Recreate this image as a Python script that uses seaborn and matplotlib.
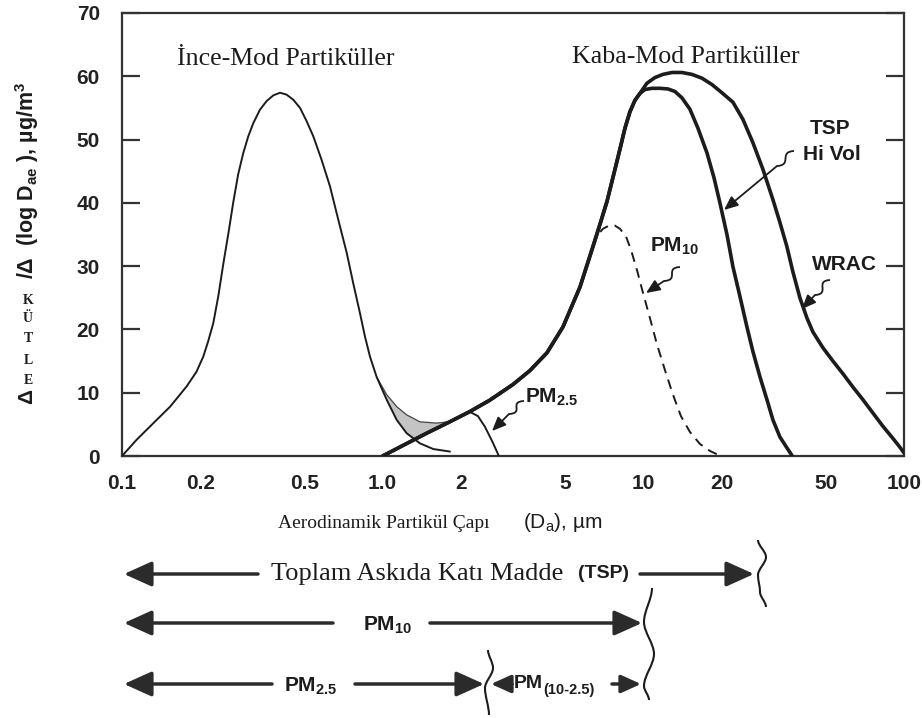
import numpy as np
import pandas as pd
import matplotlib
matplotlib.use("Agg")
import matplotlib.pyplot as plt
import seaborn as sns
from matplotlib.path import Path
from matplotlib.patches import PathPatch
from matplotlib.ticker import NullFormatter

# ---------------- data ----------------
fine_x = [0.100, 0.114, 0.132, 0.153, 0.177, 0.193, 0.205, 0.214, 0.224, 0.234,
          0.245, 0.256, 0.267, 0.279, 0.292, 0.305, 0.319, 0.338, 0.359, 0.381,
          0.404, 0.428, 0.454, 0.482, 0.511, 0.542, 0.583, 0.628, 0.676, 0.728,
          0.771, 0.818, 0.855, 0.894, 0.948, 1.036, 1.132, 1.236, 1.390, 1.564, 1.812]
fine_y = [0.0, 2.6, 5.2, 7.8, 11.0, 13.3, 15.7, 18.1, 21.0, 25.2,
          30.5, 35.2, 40.0, 44.5, 47.9, 50.5, 52.6, 54.7, 56.1, 57.0,
          57.4, 57.1, 56.3, 55.0, 52.9, 50.5, 46.8, 42.6, 37.3, 32.1,
          27.3, 22.6, 18.9, 15.7, 12.5, 8.9, 5.7, 3.6, 2.0, 1.1, 0.7]

shade_top_x = [0.948, 1.036, 1.132, 1.236, 1.390, 1.611, 1.785]
shade_top_y = [12.5, 9.7, 7.8, 6.5, 5.4, 5.2, 5.4]
shade_bot_x = [0.948, 1.036, 1.132, 1.236, 1.330, 1.475, 1.785]
shade_bot_y = [12.5, 8.9, 5.7, 3.6, 2.7, 3.6, 5.4]

rise_x = [1.000, 1.214, 1.475, 1.808, 2.155, 2.572, 3.161, 3.673, 4.267, 4.917,
          5.714, 6.409, 6.816, 7.251, 7.645, 8.135, 8.502, 8.885, 9.285, 9.705]
rise_y = [0.0, 1.8, 3.6, 5.4, 7.0, 8.8, 11.3, 13.5, 16.3, 20.4,
          26.7, 33.1, 36.6, 40.2, 44.0, 48.5, 51.8, 54.4, 56.2, 57.3]

tsp_x = [10.14, 10.79, 11.58, 12.43, 13.22, 14.06, 15.09, 16.20, 17.54, 18.66,
         19.67, 20.93, 22.07, 23.48, 24.97, 26.33, 28.02, 29.80, 31.42, 33.42, 35.54, 37.15]
tsp_y = [57.9, 58.1, 58.1, 58.0, 57.6, 56.6, 54.8, 51.8, 47.9, 44.0,
         40.0, 35.0, 29.9, 25.2, 20.4, 16.5, 12.5, 8.9, 5.7, 3.0, 1.3, 0.1]

wrac_x = [10.32, 11.08, 11.89, 12.88, 14.06, 15.36, 16.78, 18.33, 20.02, 22.07,
          24.10, 26.33, 28.76, 31.42, 33.42, 35.54, 37.48, 39.87, 42.43, 44.73,
          48.87, 53.38, 58.31, 63.68, 69.57, 75.97, 83.00, 90.60, 96.40, 100.0]
wrac_y = [58.9, 59.8, 60.3, 60.6, 60.6, 60.3, 59.7, 58.7, 57.4, 55.9,
          53.2, 49.5, 45.3, 40.5, 36.9, 33.1, 29.1, 25.0, 21.8, 19.6,
          17.1, 15.0, 13.0, 10.9, 8.9, 6.8, 4.7, 2.8, 1.4, 0.5]

pm10_x = [6.409, 6.637, 6.998, 7.379, 7.781, 8.135, 8.578, 8.964, 9.452, 9.966,
          10.60, 11.27, 12.10, 12.99, 13.94, 15.09, 16.49, 18.01, 19.33]
pm10_y = [33.1, 34.8, 35.9, 36.4, 36.4, 35.9, 34.7, 32.6, 29.4, 25.8,
          21.8, 17.7, 13.6, 9.7, 6.3, 3.8, 1.9, 0.8, 0.2]

pm25_x = [2.155, 2.32, 2.47, 2.64, 2.75, 2.79]
pm25_y = [7.0, 6.3, 4.6, 2.2, 0.6, 0.0]

xtick_vals = [0.1, 0.2, 0.5, 1, 2, 5, 10, 20, 50, 100]
xtick_labels = ["0.1", "0.2", "0.5", "1.0", "2", "5", "10", "20", "50", "100"]
xminor_vals = [0.3, 0.4, 0.6, 0.7, 0.8, 0.9, 3, 4, 6, 7, 8, 9, 15, 30, 40, 60, 70, 80, 90]
ytick_vals = [0, 10, 20, 30, 40, 50, 60, 70]

# ---------------- style ----------------
sns.set_style("white")
plt.rcParams["font.family"] = ["Liberation Sans", "DejaVu Sans"]
plt.rcParams["mathtext.fontset"] = "custom"
plt.rcParams["mathtext.rm"] = "Liberation Sans"
plt.rcParams["mathtext.bf"] = "Liberation Sans:bold"
plt.rcParams["mathtext.it"] = "Liberation Sans:italic"

INK = "#1c1c1c"
SPINE = "#333333"
SERIF = ["Liberation Serif", "DejaVu Serif"]

fig = plt.figure(figsize=(9.22, 7.18), dpi=100)
ax = fig.add_axes([122 / 922, (718 - 456) / 718, (904 - 122) / 922, (456 - 13) / 718])

# shaded transition region
ax.fill(shade_top_x + shade_bot_x[::-1], shade_top_y + shade_bot_y[::-1],
        color="#c4c4c4", lw=0, zorder=1)
sns.lineplot(x=shade_top_x, y=shade_top_y, ax=ax, color="#444444", lw=0.9,
             sort=False, estimator=None, zorder=2)

# fine mode
sns.lineplot(x=fine_x, y=fine_y, ax=ax, color=INK, lw=1.4, sort=False, estimator=None,
             zorder=3, solid_joinstyle="round")

# coarse mode curves
sns.lineplot(x=rise_x + wrac_x, y=rise_y + wrac_y, ax=ax, color=INK, lw=2.6,
             sort=False, estimator=None, zorder=4, solid_joinstyle="round")
sns.lineplot(x=rise_x + tsp_x, y=rise_y + tsp_y, ax=ax, color=INK, lw=2.6,
             sort=False, estimator=None, zorder=4, solid_joinstyle="round")
sns.lineplot(x=pm10_x, y=pm10_y, ax=ax, color=INK, lw=1.4, linestyle=(0, (5, 3.5)),
             sort=False, estimator=None, zorder=4)
sns.lineplot(x=pm25_x, y=pm25_y, ax=ax, color=INK, lw=1.4,
             sort=False, estimator=None, zorder=4, solid_joinstyle="round")

ax.set_xscale("log")
ax.set_xlim(0.1, 100)
ax.set_ylim(0, 70)
ax.set_xticks(xtick_vals)
ax.set_xticklabels(xtick_labels)
ax.set_xticks(xminor_vals, minor=True)
ax.xaxis.set_minor_formatter(NullFormatter())
ax.set_yticks(ytick_vals)
ax.set_yticklabels([str(v) for v in ytick_vals])
ax.tick_params(axis="x", which="major", direction="in", length=14, width=1.6,
               color=SPINE, pad=13, labelsize=15, top=False)
ax.tick_params(axis="x", which="minor", direction="in", length=10, width=1.6,
               color=SPINE, top=False)
ax.tick_params(axis="y", which="major", direction="in", length=13, width=1.6,
               color=SPINE, pad=16, labelsize=15, left=True, right=True)
for lab in ax.get_xticklabels() + ax.get_yticklabels():
    lab.set_fontweight("bold")
    lab.set_color("#222222")
for sp in ax.spines.values():
    sp.set_linewidth(1.6)
    sp.set_color(SPINE)
ax.set_xlabel("")
ax.set_ylabel("")

# ---------------- overlay in pixel coordinates ----------------
ov = fig.add_axes([0, 0, 1, 1], zorder=10)
ov.set_xlim(0, 922)
ov.set_ylim(718, 0)
ov.axis("off")
ov.patch.set_alpha(0)


def squiggle_arrow(A, B, head, lw=1.3):
    verts = [A, (A[0] - 16, A[1] + 1), (B[0] + 16, B[1] - 1), B]
    codes = [Path.MOVETO, Path.CURVE4, Path.CURVE4, Path.CURVE4]
    ov.add_patch(PathPatch(Path(verts, codes), fill=False, lw=lw, color=INK))
    ov.annotate("", xy=head, xytext=B,
                arrowprops=dict(arrowstyle="-|>,head_length=0.7,head_width=0.3",
                                lw=lw, color=INK, shrinkA=0, shrinkB=0,
                                mutation_scale=12))


def row_arrow(tail, head, scale=17):
    ov.annotate("", xy=head, xytext=tail,
                arrowprops=dict(arrowstyle="-|>,head_length=1.0,head_width=0.45",
                                lw=2.5, color="#2b2b2b", shrinkA=0, shrinkB=0,
                                mutation_scale=scale))


def brace(pts, lw=1.5):
    verts = [pts[0]]
    codes = [Path.MOVETO]
    for p0, p1 in zip(pts[:-1], pts[1:]):
        dy = (p1[1] - p0[1]) / 3
        verts += [(p0[0], p0[1] + dy), (p1[0], p1[1] - dy), p1]
        codes += [Path.CURVE4] * 3
    ov.add_patch(PathPatch(Path(verts, codes), fill=False, lw=lw, color=INK))


# mode titles
ov.text(177, 59, "İnce-Mod Partiküller", family=SERIF, size=18.6, va="center", ha="left", color=INK)
ov.text(572, 57, "Kaba-Mod Partiküller", family=SERIF, size=18.6, va="center", ha="left", color=INK)

# curve labels
ov.text(830, 128, "TSP", size=15, weight="bold", ha="center", va="center", color=INK)
ov.text(832, 154, "Hi Vol", size=15, weight="bold", ha="center", va="center", color=INK)
squiggle_arrow((794, 151), (777, 166), (724, 210))

ov.text(650, 246, r"PM$_{\mathbf{10}}$", size=15, weight="bold", ha="left", va="center", color=INK)
squiggle_arrow((680, 267), (664, 281), (646, 293))

ov.text(812, 265, "WRAC", size=15, weight="bold", ha="left", va="center", color=INK)
squiggle_arrow((830, 280), (815, 295), (802, 309))

ov.text(525, 397, r"PM$_{\mathbf{2.5}}$", size=15, weight="bold", ha="left", va="center", color=INK)
squiggle_arrow((524, 401), (509, 414), (492, 431))

# y label
ov.text(27, 397, "Δ", size=15, weight="bold", rotation=90, ha="center", va="center", color=INK)
for ch, yy in zip(["K", "Ü", "T", "L", "E"], [300, 319, 339, 361, 381]):
    ov.text(28, yy, ch, family=SERIF, size=10, weight="bold", ha="center", va="center", color=INK)
ov.text(27, 279, r"/Δ  (log D$_{\mathbf{ae}}$ ), µg/m$^{\mathbf{3}}$", size=15.5, weight="bold",
        rotation=90, ha="center", va="bottom", color=INK)

# x label
ov.text(278, 523, "Aerodinamik Partikül Çapı", family=SERIF, size=14, ha="left", va="center", color=INK)
ov.text(523, 523, r"(D$_{\mathrm{a}}$), µm", size=15, ha="left", va="center", color=INK)

# size-range arrows
y1, y2, y3 = 574, 623, 684
row_arrow((258, y1), (124, y1))
ov.text(271, y1, "Toplam Askıda Katı Madde", family=SERIF, size=19, ha="left", va="center", color=INK)
ov.text(578, y1, "(TSP)", size=14, weight="bold", ha="left", va="center", color=INK)
row_arrow((640, y1), (754, y1))
brace([(758, 540), (766, 557), (758, 575), (760, 592), (766, 607)])

row_arrow((333, y2), (124, y2))
ov.text(388, y2 + 2, r"PM$_{\mathbf{10}}$", size=15, weight="bold", ha="center", va="center", color=INK)
row_arrow((430, y2), (642, y2))
brace([(652, 588), (644, 622), (654, 654), (644, 686), (649, 700)])

row_arrow((272, y3), (124, y3))
ov.text(311, y3 + 2, r"PM$_{\mathbf{2.5}}$", size=15, weight="bold", ha="center", va="center", color=INK)
row_arrow((355, y3), (484, y3))
brace([(488, 650), (493, 668), (485, 688), (489, 715)])
row_arrow((512, y3), (491, y3), scale=12)
ov.text(514, y3, "PM", size=14, weight="bold", ha="left", va="center", color=INK)
ov.text(543, y3 + 6, "(10-2.5)", size=10.5, weight="bold", ha="left", va="center", color=INK)
row_arrow((612, y3), (641, y3), scale=12)

fig.savefig("out.png", dpi=100, facecolor="white")
